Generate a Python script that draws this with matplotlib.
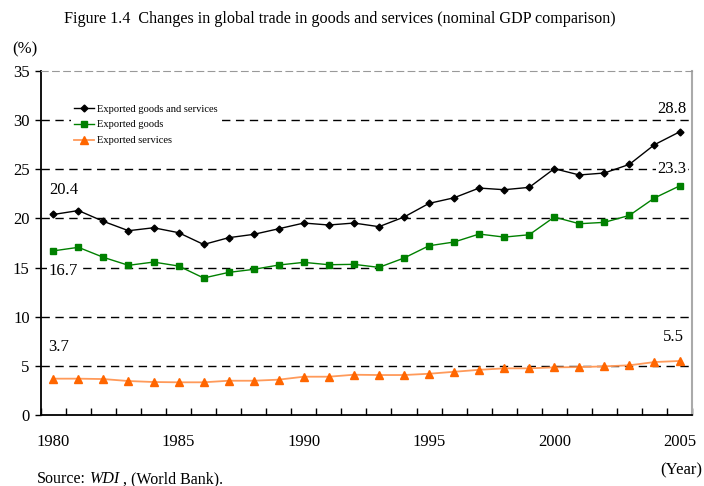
import matplotlib.pyplot as plt

plt.rcParams['font.family'] = ['Liberation Serif', 'DejaVu Serif']

years = list(range(1980, 2006))
goods_services = [20.4, 20.8, 19.7, 18.75, 19.05, 18.55, 17.35, 18.04, 18.38, 18.95,
                  19.53, 19.33, 19.53, 19.16, 20.14, 21.53, 22.1, 23.09, 22.92, 23.16,
                  25.06, 24.42, 24.62, 25.5, 27.5, 28.8]
goods = [16.7, 17.06, 16.04, 15.23, 15.56, 15.16, 13.94, 14.51, 14.82, 15.26,
         15.53, 15.29, 15.33, 15.02, 15.97, 17.22, 17.6, 18.41, 18.1, 18.34,
         20.14, 19.46, 19.6, 20.31, 22.08, 23.3]
services = [3.7, 3.7, 3.66, 3.46, 3.36, 3.33, 3.33, 3.49, 3.49, 3.6,
            3.9, 3.9, 4.1, 4.07, 4.07, 4.2, 4.4, 4.6, 4.75, 4.75,
            4.85, 4.88, 4.95, 5.06, 5.39, 5.5]
yticks = [0, 5, 10, 15, 20, 25, 30, 35]
xlabels = [1980, 1985, 1990, 1995, 2000, 2005]

fig = plt.figure(figsize=(7.04, 4.86), dpi=100)
ax = fig.add_axes([0.058, 0.146, 0.925, 0.708])

# dashed gridlines
for v in yticks[1:-1]:
    ax.axhline(v, color='black', lw=1, ls=(0, (6, 4)), zorder=1)

ax.plot(years, goods_services, color='black', lw=1, marker='D', ms=3.5,
        label='Exported goods and services', zorder=3)
ax.plot(years, goods, color='#008000', lw=1, marker='s', ms=5,
        label='Exported goods', zorder=3)
ax.plot(years, services, color='#FF9A5A', lw=1.3, marker='^', ms=5.5,
        mfc='#FF6600', mec='#FF6600', label='Exported services', zorder=3)

ax.set_xlim(1979.5, 2005.5)
ax.set_ylim(0, 35)
ax.set_yticks(yticks)
ax.set_yticklabels([str(v) for v in yticks], fontsize=12)
ax.set_xticks([y + 0.5 for y in years[:-1]] + [1979.5, 2005.5])
ax.set_xticklabels([])
ax.set_xticks(xlabels, minor=True)
ax.set_xticklabels([str(v) for v in xlabels], minor=True, fontsize=12)
ax.tick_params(axis='x', which='major', direction='in', length=5, width=1)
ax.tick_params(axis='x', which='minor', length=0, pad=14)
ax.tick_params(axis='y', direction='out', length=4, width=1, pad=4)

ax.spines['top'].set_color('#999999')
ax.spines['top'].set_linestyle((0, (6, 4)))
ax.spines['right'].set_color('#aaaaaa')
ax.spines['right'].set_linewidth(1.5)
ax.spines['left'].set_linewidth(1.3)
ax.spines['bottom'].set_linewidth(1.3)

leg = ax.legend(loc='upper left', bbox_to_anchor=(0.038, 0.928), frameon=True,
                fontsize=7.6, handlelength=1.9, handletextpad=0.25,
                labelspacing=0.62, borderpad=0.3)
leg.get_frame().set_edgecolor('none')
leg.get_frame().set_facecolor('white')
leg.get_frame().set_alpha(1)

box = dict(facecolor='white', edgecolor='none', pad=1)
ax.text(1980.4, 22.9, '20.4', fontsize=12, ha='center', va='center')
ax.text(1980.4, 14.7, '16.7', fontsize=12, ha='center', va='center', bbox=box, zorder=2)
ax.text(1980.2, 6.9, '3.7', fontsize=12, ha='center', va='center')
ax.text(2004.7, 31.1, '28.8', fontsize=12, ha='center', va='center')
ax.text(2004.7, 25.0, '23.3', fontsize=12, ha='center', va='center', bbox=box, zorder=2)
ax.text(2004.75, 7.9, '5.5', fontsize=12, ha='center', va='center')

fig.text(0.483, 0.961, 'Figure 1.4  Changes in global trade in goods and services (nominal GDP comparison)',
         fontsize=11.6, ha='center', va='center')
fig.text(0.017, 0.899, '(%)', fontsize=12, ha='left', va='center')
fig.text(0.998, 0.032, '(Year)', fontsize=12, ha='right', va='center')

# source line in three pieces so that WDI can be italic
renderer = fig.canvas.get_renderer()
t1 = fig.text(0.052, 0.014, 'Source:', fontsize=11.5, ha='left', va='center')
x = (t1.get_window_extent(renderer).x1 + 4) / fig.bbox.width
t2 = fig.text(x, 0.014, 'WDI', fontsize=11.5, ha='left', va='center', style='italic')
x = (t2.get_window_extent(renderer).x1 + 3) / fig.bbox.width
fig.text(x, 0.014, ', (World Bank).', fontsize=11.5, ha='left', va='center')

fig.savefig('out.png', dpi=100)
